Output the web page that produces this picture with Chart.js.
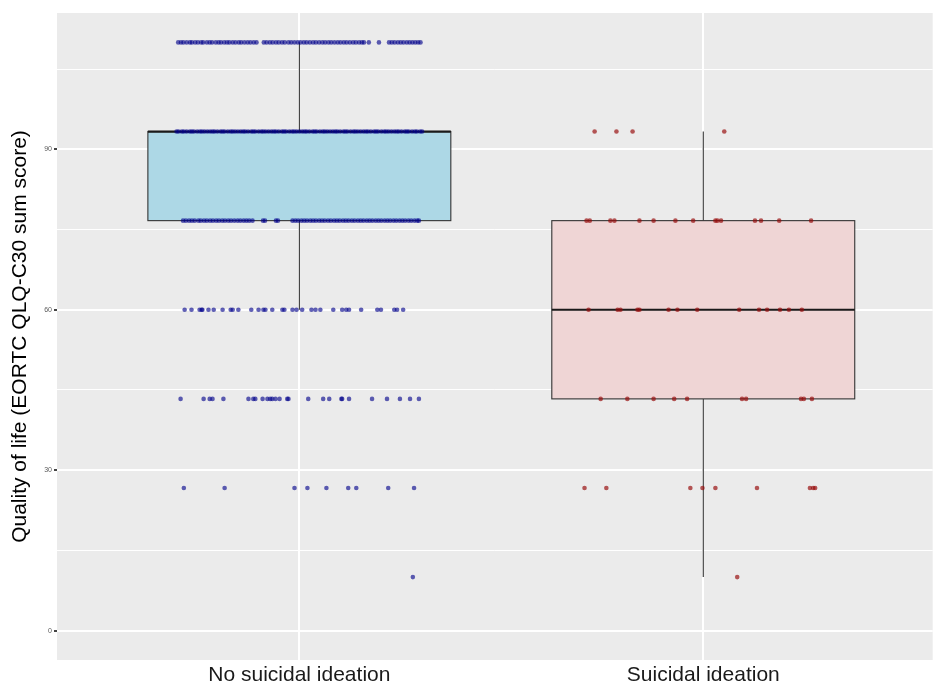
<!DOCTYPE html>
<html>
<head>
<meta charset="utf-8">
<script src="https://cdn.jsdelivr.net/npm/chart.js@4/dist/chart.umd.min.js"></script>
<style>
  html, body { margin: 0; padding: 0; background: #ffffff; }
  #wrap { width: 935px; height: 682px; }
</style>
</head>
<body>
<div id="wrap"><canvas id="chart" width="935" height="682"></canvas></div>
<script>
// Groups shown along the x axis
const categories = ['No suicidal ideation', 'Suicidal ideation'];

// Labelled y ticks and the full set of grid positions
const yTickLabels = [0, 30, 60, 90];
const yGridValues = [0, 15, 30, 45, 60, 75, 90, 105];

// Box-plot summary per group (lower whisker, Q1, median, Q3, upper whisker)
const whiskerLow = [60, 10];
const quartile1 = [76.667, 43.333];
const medianScore = [93.333, 60];
const quartile3 = [93.333, 76.667];
const whiskerHigh = [110, 93.333];

// Individual scores: horizontal jitter offsets of the points at each score level
// Group 1: no suicidal ideation
const noIdeation110 = [-0.300,-0.293,-0.287,-0.279,-0.271,-0.266,-0.258,-0.251,-0.243,-0.238,-0.229,-0.222,-0.216,-0.207,-0.200,-0.194,-0.186,-0.179,-0.173,-0.165,-0.158,-0.150,-0.144,-0.136,-0.128,-0.121,-0.113,-0.106,
  -0.088,-0.081,-0.073,-0.066,-0.058,-0.051,-0.043,-0.036,-0.027,-0.020,-0.012,-0.004,0.003,0.011,0.018,0.026,0.034,0.041,0.049,0.057,0.064,0.072,0.079,0.087,0.095,0.102,0.110,0.117,0.125,0.133,0.140,0.148,0.155,0.160,
  0.172,0.197,0.222,0.229,0.236,0.244,0.251,0.258,0.266,0.273,0.280,0.287,0.294,0.300];
const noIdeation93 = [-0.304,-0.299,-0.291,-0.286,-0.279,-0.271,-0.266,-0.261,-0.253,-0.246,-0.241,-0.235,-0.228,-0.221,-0.215,-0.210,-0.203,-0.195,-0.190,-0.185,-0.177,-0.170,-0.165,-0.159,-0.152,-0.145,-0.139,-0.134,-0.127,-0.119,-0.114,-0.109,-0.101,-0.094,-0.089,-0.083,-0.076,-0.069,-0.063,-0.058,-0.051,-0.043,-0.038,-0.033,-0.025,-0.018,-0.013,-0.007,0.000,0.007,0.013,0.018,0.025,0.033,0.038,0.043,0.051,0.058,0.063,0.069,0.076,0.083,0.089,0.094,0.101,0.109,0.114,0.119,0.127,0.134,0.139,0.145,0.152,0.159,0.165,0.170,0.177,0.185,0.190,0.195,0.203,0.210,0.215,0.221,0.228,0.235,0.241,0.246,0.253,0.261,0.266,0.271,0.279,0.286,0.291,0.299,0.304];
const noIdeation77 = [-0.288,-0.281,-0.273,-0.266,-0.259,-0.250,-0.244,-0.236,-0.229,-0.221,-0.214,-0.206,-0.199,-0.191,-0.184,-0.176,-0.169,-0.161,-0.153,-0.146,-0.138,-0.131,-0.124,-0.116,
  -0.090,-0.085,-0.058,-0.053,
  -0.017,-0.010,-0.003,0.005,0.012,0.019,0.027,0.034,0.041,0.049,0.056,0.063,0.071,0.078,0.086,0.093,0.100,0.108,0.115,0.122,0.130,0.137,0.145,0.152,0.159,0.167,0.174,0.181,0.189,0.196,0.203,0.211,0.218,0.225,0.233,0.240,0.248,0.255,0.262,0.270,0.277,0.285,0.292,0.296];
const noIdeation60 = [-0.284,-0.267,-0.247,-0.242,-0.240,-0.225,-0.212,-0.190,-0.170,-0.165,-0.151,-0.119,-0.101,-0.089,-0.084,-0.067,-0.042,-0.037,-0.017,-0.007,0.007,0.030,0.040,0.052,0.084,0.106,0.116,0.123,0.153,0.193,0.202,0.235,0.242,0.257];
const noIdeation43 = [-0.294,-0.237,-0.222,-0.215,-0.188,-0.126,-0.114,-0.109,-0.091,-0.079,-0.072,-0.067,-0.059,-0.049,-0.030,-0.027,0.022,0.059,0.074,0.104,0.106,0.123,0.180,0.217,0.249,0.274,0.296];
const noIdeation27 = [-0.286,-0.185,-0.012,0.020,0.067,0.121,0.141,0.220,0.284];
const noIdeation10 = [0.281];

// Group 2: suicidal ideation
const ideation93 = [-0.269,-0.215,-0.175,0.052];
const ideation77 = [-0.289,-0.281,-0.230,-0.220,-0.158,-0.123,-0.069,-0.025,0.030,0.035,0.044,0.128,0.143,0.188,0.267];
const ideation60 = [-0.284,-0.212,-0.205,-0.163,-0.158,-0.086,-0.064,-0.015,0.089,0.138,0.158,0.190,0.212,0.244];
const ideation43 = [-0.254,-0.188,-0.123,-0.072,-0.040,0.096,0.106,0.242,0.249,0.269];
const ideation27 = [-0.294,-0.240,-0.032,-0.002,0.030,0.133,0.264,0.272,0.277];
const ideation10 = [0.084];

// Build scatter points: x = group position + jitter, y = score
function pointsAt(groupIndex, score, offsets) {
  return offsets.map(off => ({ x: groupIndex + 1 + off, y: score }));
}
const noIdeationPoints = [].concat(
  pointsAt(0, 110, noIdeation110),
  pointsAt(0, 93.333, noIdeation93),
  pointsAt(0, 76.667, noIdeation77),
  pointsAt(0, 60, noIdeation60),
  pointsAt(0, 43.333, noIdeation43),
  pointsAt(0, 26.667, noIdeation27),
  pointsAt(0, 10, noIdeation10)
);
const ideationPoints = [].concat(
  pointsAt(1, 93.333, ideation93),
  pointsAt(1, 76.667, ideation77),
  pointsAt(1, 60, ideation60),
  pointsAt(1, 43.333, ideation43),
  pointsAt(1, 26.667, ideation27),
  pointsAt(1, 10, ideation10)
);

const boxFills = ['#ADD8E6', '#EFD5D5'];
const BOX_HALF_WIDTH = 0.375;

// Grey panel behind the plotting area
const panelBackground = {
  id: 'panelBackground',
  beforeDraw(chart) {
    const { ctx, chartArea: a } = chart;
    ctx.save();
    ctx.fillStyle = '#EBEBEB';
    ctx.fillRect(a.left, a.top, a.right - a.left, a.bottom - a.top);
    ctx.restore();
  }
};

// Boxes and whiskers, drawn over the grid and under the points
const boxPlots = {
  id: 'boxPlots',
  beforeDatasetsDraw(chart) {
    const { ctx, scales: { x, y } } = chart;
    ctx.save();
    categories.forEach((c, i) => {
      const cx = x.getPixelForValue(i + 1);
      const x0 = x.getPixelForValue(i + 1 - BOX_HALF_WIDTH);
      const x1 = x.getPixelForValue(i + 1 + BOX_HALF_WIDTH);
      const yQ1 = y.getPixelForValue(quartile1[i]);
      const yQ3 = y.getPixelForValue(quartile3[i]);
      const yMed = y.getPixelForValue(medianScore[i]);
      const yLo = y.getPixelForValue(whiskerLow[i]);
      const yHi = y.getPixelForValue(whiskerHigh[i]);

      ctx.strokeStyle = '#333333';
      ctx.lineWidth = 1.1;
      ctx.beginPath();
      ctx.moveTo(cx, yQ3); ctx.lineTo(cx, yHi);
      ctx.moveTo(cx, yQ1); ctx.lineTo(cx, yLo);
      ctx.stroke();

      ctx.fillStyle = boxFills[i];
      ctx.fillRect(x0, yQ3, x1 - x0, yQ1 - yQ3);
      ctx.strokeRect(x0, yQ3, x1 - x0, yQ1 - yQ3);

      ctx.strokeStyle = '#1a1a1a';
      ctx.lineWidth = 2.2;
      ctx.beginPath();
      ctx.moveTo(x0, yMed); ctx.lineTo(x1, yMed);
      ctx.stroke();
    });
    ctx.restore();
  }
};

new Chart(document.getElementById('chart'), {
  type: 'scatter',
  data: {
    datasets: [
      {
        label: categories[0],
        data: noIdeationPoints,
        backgroundColor: 'rgba(0, 0, 139, 0.62)',
        borderWidth: 0,
        pointRadius: 2.3,
        pointHoverRadius: 2.3
      },
      {
        label: categories[1],
        data: ideationPoints,
        backgroundColor: 'rgba(150, 10, 10, 0.68)',
        borderWidth: 0,
        pointRadius: 2.3,
        pointHoverRadius: 2.3
      }
    ]
  },
  options: {
    responsive: false,
    animation: false,
    devicePixelRatio: 1,
    layout: { padding: { top: 13, right: 0, bottom: 0, left: 0 } },
    plugins: { legend: { display: false }, tooltip: { enabled: false } },
    scales: {
      x: {
        type: 'linear',
        min: 0.4,
        max: 2.568,
        afterBuildTicks(axis) { axis.ticks = categories.map((c, i) => ({ value: i + 1 })); },
        afterFit(axis) { axis.height = 22; },
        border: { display: false },
        grid: { color: '#FFFFFF', lineWidth: 2, tickLength: 3, tickColor: 'rgba(0,0,0,0)' },
        ticks: {
          autoSkip: false,
          maxRotation: 0,
          padding: 2,
          color: '#1a1a1a',
          font: { family: 'Liberation Sans, Arial, sans-serif', size: 21, lineHeight: 1 },
          callback: v => categories[Math.round(v) - 1]
        }
      },
      y: {
        min: -5.5,
        max: 115.5,
        afterBuildTicks(axis) { axis.ticks = yGridValues.map(v => ({ value: v })); },
        afterFit(axis) { axis.width = 57; },
        border: { display: false },
        grid: {
          color: '#FFFFFF',
          lineWidth: ctx => (yTickLabels.includes(ctx.tick && ctx.tick.value) ? 2 : 1),
          tickLength: 3,
          tickColor: ctx => (yTickLabels.includes(ctx.tick && ctx.tick.value) ? '#444444' : 'rgba(0,0,0,0)')
        },
        ticks: {
          padding: 2,
          color: '#5a5a5a',
          font: { family: 'Liberation Sans, Arial, sans-serif', size: 7 },
          callback: v => (yTickLabels.includes(v) ? String(v) : '')
        },
        title: {
          display: true,
          text: 'Quality of life (EORTC QLQ-C30 sum score)',
          color: '#000000',
          padding: { top: 8, bottom: 0 },
          font: { family: 'Liberation Sans, Arial, sans-serif', size: 21 }
        }
      }
    }
  },
  plugins: [panelBackground, boxPlots]
});
</script>
</body>
</html>
